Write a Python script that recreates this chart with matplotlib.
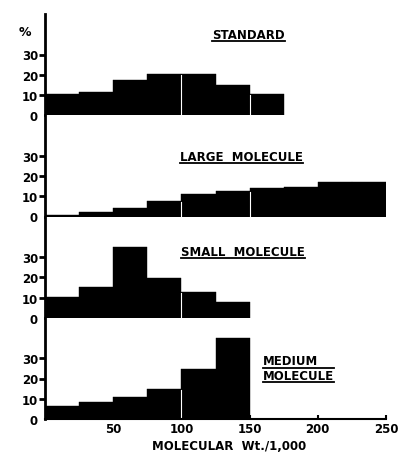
import numpy as np
import matplotlib.pyplot as plt
from matplotlib.lines import Line2D

# bin left edges (molecular wt / 1000), width 25
edges = [0, 25, 50, 75, 100, 125, 150, 175, 200, 225]

standard = [10.5, 11.5, 17.5, 20.5, 20.5, 15, 10.5]
large = [0.6, 2, 4.3, 7.6, 11, 12.5, 14, 14.5, 17, 17]
small = [10.4, 15, 35, 19.8, 12.5, 8]
medium = [6.5, 8.5, 10.8, 15, 24.5, 40]

names = ["STANDARD", "LARGE  MOLECULE", "SMALL  MOLECULE", "MEDIUM\nMOLECULE"]
series = [standard, large, small, medium]
gaps = [[100, 150], [100, 150], [100], [100]]
label_pos = [(0.49, 0.80), (0.395, 0.59), (0.40, 0.65), (0.64, 0.50)]

xticks = [50, 100, 150, 200, 250]
yticks = [0, 10, 20, 30]

plt.rcParams['font.family'] = 'DejaVu Sans'
plt.rcParams['font.weight'] = 'bold'

fig = plt.figure(figsize=(4.03, 4.56), dpi=100)
left, right = 45 / 403, 386 / 403
base_top = 15 / 456
base_bot = 36 / 456
h = (1 - base_top - base_bot) / 4

axes = []
texts = []
for i, (vals, name) in enumerate(zip(series, names)):
    ax = fig.add_axes([left, 1 - base_top - (i + 1) * h, right - left, h])
    axes.append(ax)
    x = np.array(edges[:len(vals)])
    ax.bar(x, vals, width=25, align='edge', color='black', edgecolor='black', linewidth=0.3)
    for g in gaps[i]:
        k = edges.index(g)
        if k < len(vals):
            hh = min(vals[k], vals[k - 1])
            ax.plot([g, g], [0, hh * 0.97], color='white', lw=0.8)
    ax.set_xlim(0, 250)
    ax.set_ylim(0, 50)
    for s in ['top', 'right']:
        ax.spines[s].set_visible(False)
    ax.spines['left'].set_linewidth(2)
    ax.set_yticks(yticks)
    ax.set_yticklabels([str(v) for v in yticks], fontsize=8.5, fontweight='bold')
    ax.tick_params(axis='y', length=4, width=2, pad=1)
    ax.yaxis.get_major_ticks()[0].tick1line.set_visible(False)
    if i < 3:
        ax.spines['bottom'].set_visible(False)
        ax.set_xticks([])
    else:
        ax.spines['bottom'].set_linewidth(1.5)
        ax.set_xticks(xticks)
        ax.set_xticklabels([str(v) for v in xticks], fontsize=8.5, fontweight='bold')
        ax.tick_params(axis='x', direction='in', length=3, width=1.5, pad=2)
        ax.set_xlabel("MOLECULAR  Wt./1,000", fontsize=8.5, fontweight='bold', labelpad=1)
        ax.xaxis.set_label_coords(0.54, -0.20)
    t = ax.text(label_pos[i][0], label_pos[i][1], name, transform=ax.transAxes,
                ha='left', va='center', fontsize=8.5, fontweight='bold',
                linespacing=1.2)
    texts.append(t)

axes[0].text(-0.06, 0.83, "%", transform=axes[0].transAxes, ha='center', va='center',
             fontsize=9, fontweight='bold')

# underline the panel titles
fig.canvas.draw()
r = fig.canvas.get_renderer()
inv = fig.transFigure.inverted()
for t in texts:
    lines = t.get_text().split("\n")
    bb = t.get_window_extent(r)
    n = len(lines)
    lh = bb.height / n
    for j in range(n):
        y = bb.y1 - (j + 1) * lh
        (x0, y0) = inv.transform((bb.x0, y))
        (x1, _) = inv.transform((bb.x1, y))
        fig.add_artist(Line2D([x0, x1], [y0, y0], color='black', lw=1.3))

fig.savefig("out.png", dpi=100)
